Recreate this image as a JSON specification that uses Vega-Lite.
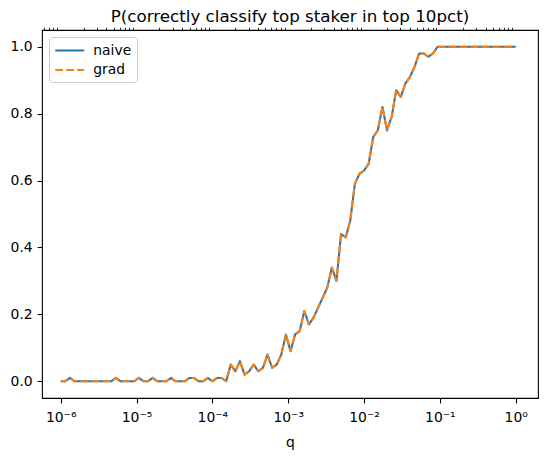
{
  "$schema": "https://vega.github.io/schema/vega-lite/v6.json",
  "width": 496,
  "height": 368,
  "autosize": {"type": "none"},
  "padding": {"left": 42, "top": 30, "right": 9, "bottom": 59},
  "background": "white",
  "title": {
    "text": "P(correctly classify top staker in top 10pct)",
    "font": "DejaVu Sans",
    "fontSize": 16.7,
    "fontWeight": "normal",
    "color": "black",
    "anchor": "middle",
    "offset": 1
  },
  "data": {
    "values": [
      {"q": 1e-6, "naive": 0, "grad": 0},
      {"q": 1.1498e-6, "naive": 0, "grad": 0},
      {"q": 1.3219e-6, "naive": 0.01, "grad": 0.01},
      {"q": 1.5199e-6, "naive": 0, "grad": 0},
      {"q": 1.7475e-6, "naive": 0, "grad": 0},
      {"q": 2.0092e-6, "naive": 0, "grad": 0},
      {"q": 2.3101e-6, "naive": 0, "grad": 0},
      {"q": 2.6561e-6, "naive": 0, "grad": 0},
      {"q": 3.0539e-6, "naive": 0, "grad": 0},
      {"q": 3.5112e-6, "naive": 0, "grad": 0},
      {"q": 4.037e-6, "naive": 0, "grad": 0},
      {"q": 4.6416e-6, "naive": 0, "grad": 0},
      {"q": 5.3367e-6, "naive": 0.01, "grad": 0.01},
      {"q": 6.1359e-6, "naive": 0, "grad": 0},
      {"q": 7.0548e-6, "naive": 0, "grad": 0},
      {"q": 8.1113e-6, "naive": 0, "grad": 0},
      {"q": 9.326e-6, "naive": 0, "grad": 0},
      {"q": 1.0723e-5, "naive": 0.01, "grad": 0.01},
      {"q": 1.2328e-5, "naive": 0, "grad": 0},
      {"q": 1.4175e-5, "naive": 0, "grad": 0},
      {"q": 1.6298e-5, "naive": 0.01, "grad": 0.01},
      {"q": 1.8738e-5, "naive": 0, "grad": 0},
      {"q": 2.1544e-5, "naive": 0, "grad": 0},
      {"q": 2.4771e-5, "naive": 0, "grad": 0},
      {"q": 2.848e-5, "naive": 0.01, "grad": 0.01},
      {"q": 3.2745e-5, "naive": 0, "grad": 0},
      {"q": 3.7649e-5, "naive": 0, "grad": 0},
      {"q": 4.3288e-5, "naive": 0, "grad": 0},
      {"q": 4.977e-5, "naive": 0.01, "grad": 0.01},
      {"q": 5.7224e-5, "naive": 0.01, "grad": 0.01},
      {"q": 6.5793e-5, "naive": 0, "grad": 0},
      {"q": 7.5646e-5, "naive": 0, "grad": 0},
      {"q": 8.6975e-5, "naive": 0.01, "grad": 0.01},
      {"q": 1e-4, "naive": 0, "grad": 0},
      {"q": 1.1498e-4, "naive": 0.01, "grad": 0.01},
      {"q": 1.3219e-4, "naive": 0.01, "grad": 0.01},
      {"q": 1.5199e-4, "naive": 0, "grad": 0},
      {"q": 1.7475e-4, "naive": 0.05, "grad": 0.05},
      {"q": 2.0092e-4, "naive": 0.03, "grad": 0.03},
      {"q": 2.3101e-4, "naive": 0.06, "grad": 0.06},
      {"q": 2.6561e-4, "naive": 0.02, "grad": 0.02},
      {"q": 3.0539e-4, "naive": 0.03, "grad": 0.03},
      {"q": 3.5112e-4, "naive": 0.05, "grad": 0.05},
      {"q": 4.037e-4, "naive": 0.03, "grad": 0.03},
      {"q": 4.6416e-4, "naive": 0.04, "grad": 0.04},
      {"q": 5.3367e-4, "naive": 0.08, "grad": 0.08},
      {"q": 6.1359e-4, "naive": 0.04, "grad": 0.04},
      {"q": 7.0548e-4, "naive": 0.05, "grad": 0.05},
      {"q": 8.1113e-4, "naive": 0.08, "grad": 0.08},
      {"q": 9.326e-4, "naive": 0.14, "grad": 0.14},
      {"q": 1.0723e-3, "naive": 0.09, "grad": 0.09},
      {"q": 1.2328e-3, "naive": 0.14, "grad": 0.14},
      {"q": 1.4175e-3, "naive": 0.15, "grad": 0.15},
      {"q": 1.6298e-3, "naive": 0.21, "grad": 0.21},
      {"q": 1.8738e-3, "naive": 0.17, "grad": 0.17},
      {"q": 2.1544e-3, "naive": 0.19, "grad": 0.19},
      {"q": 2.4771e-3, "naive": 0.22, "grad": 0.22},
      {"q": 2.848e-3, "naive": 0.25, "grad": 0.25},
      {"q": 3.2745e-3, "naive": 0.28, "grad": 0.28},
      {"q": 3.7649e-3, "naive": 0.34, "grad": 0.34},
      {"q": 4.3288e-3, "naive": 0.3, "grad": 0.3},
      {"q": 4.977e-3, "naive": 0.44, "grad": 0.44},
      {"q": 5.7224e-3, "naive": 0.43, "grad": 0.43},
      {"q": 6.5793e-3, "naive": 0.48, "grad": 0.48},
      {"q": 7.5646e-3, "naive": 0.59, "grad": 0.59},
      {"q": 8.6975e-3, "naive": 0.62, "grad": 0.62},
      {"q": 1e-2, "naive": 0.63, "grad": 0.63},
      {"q": 1.1498e-2, "naive": 0.65, "grad": 0.65},
      {"q": 1.3219e-2, "naive": 0.73, "grad": 0.73},
      {"q": 1.5199e-2, "naive": 0.75, "grad": 0.75},
      {"q": 1.7475e-2, "naive": 0.82, "grad": 0.82},
      {"q": 2.0092e-2, "naive": 0.75, "grad": 0.75},
      {"q": 2.3101e-2, "naive": 0.79, "grad": 0.79},
      {"q": 2.6561e-2, "naive": 0.87, "grad": 0.87},
      {"q": 3.0539e-2, "naive": 0.85, "grad": 0.85},
      {"q": 3.5112e-2, "naive": 0.89, "grad": 0.89},
      {"q": 4.037e-2, "naive": 0.91, "grad": 0.91},
      {"q": 4.6416e-2, "naive": 0.94, "grad": 0.94},
      {"q": 5.3367e-2, "naive": 0.98, "grad": 0.98},
      {"q": 6.1359e-2, "naive": 0.98, "grad": 0.98},
      {"q": 7.0548e-2, "naive": 0.97, "grad": 0.97},
      {"q": 8.1113e-2, "naive": 0.98, "grad": 0.98},
      {"q": 9.326e-2, "naive": 1, "grad": 1},
      {"q": 0.10723, "naive": 1, "grad": 1},
      {"q": 0.12328, "naive": 1, "grad": 1},
      {"q": 0.14175, "naive": 1, "grad": 1},
      {"q": 0.16298, "naive": 1, "grad": 1},
      {"q": 0.18738, "naive": 1, "grad": 1},
      {"q": 0.21544, "naive": 1, "grad": 1},
      {"q": 0.24771, "naive": 1, "grad": 1},
      {"q": 0.2848, "naive": 1, "grad": 1},
      {"q": 0.32745, "naive": 1, "grad": 1},
      {"q": 0.37649, "naive": 1, "grad": 1},
      {"q": 0.43288, "naive": 1, "grad": 1},
      {"q": 0.4977, "naive": 1, "grad": 1},
      {"q": 0.57224, "naive": 1, "grad": 1},
      {"q": 0.65793, "naive": 1, "grad": 1},
      {"q": 0.75646, "naive": 1, "grad": 1},
      {"q": 0.86975, "naive": 1, "grad": 1},
      {"q": 1, "naive": 1, "grad": 1}
    ]
  },
  "transform": [{"fold": ["naive", "grad"], "as": ["series", "p"]}],
  "encoding": {
    "y": {
      "field": "p",
      "type": "quantitative",
      "scale": {"domain": [-0.05, 1.05], "nice": false, "zero": false},
      "axis": {"values": [0, 0.2, 0.4, 0.6, 0.8, 1.0], "format": ".1f", "title": null}
    },
    "color": {
      "field": "series",
      "type": "nominal",
      "scale": {"domain": ["naive", "grad"], "range": ["#1f77b4", "#ff7f0e"]},
      "legend": {"title": null}
    },
    "strokeDash": {
      "field": "series",
      "type": "nominal",
      "scale": {"domain": ["naive", "grad"], "range": [[1, 0], [7.7, 3.3]]},
      "legend": {"title": null}
    }
  },
  "layer": [
    {
      "transform": [{"filter": "datum.series === 'naive'"}],
      "mark": {"type": "line", "strokeWidth": 2.08, "strokeJoin": "round"},
      "encoding": {
        "x": {
          "field": "q",
          "type": "quantitative",
          "scale": {"type": "log", "domain": [5.666e-7, 1.968], "nice": false},
          "axis": {
            "values": [1e-6, 1e-5, 1e-4, 1e-3, 1e-2, 1e-1, 1],
            "labelExpr": "['10⁻⁶','10⁻⁵','10⁻⁴','10⁻³','10⁻²','10⁻¹','10⁰'][round(log(datum.value)/LN10)+6]",
            "labelPadding": 7.5,
            "titlePadding": 11,
            "title": "q"
          }
        }
      }
    },
    {
      "transform": [{"filter": "datum.series === 'grad'"}],
      "mark": {"type": "line", "strokeWidth": 2.08, "strokeJoin": "round"},
      "encoding": {
        "x": {
          "field": "q",
          "type": "quantitative",
          "scale": {"type": "log", "domain": [5.666e-7, 1.968], "nice": false},
          "axis": {
            "values": [6e-7, 7e-7, 8e-7, 9e-7,
                       2e-6, 3e-6, 4e-6, 5e-6, 6e-6, 7e-6, 8e-6, 9e-6,
                       2e-5, 3e-5, 4e-5, 5e-5, 6e-5, 7e-5, 8e-5, 9e-5,
                       2e-4, 3e-4, 4e-4, 5e-4, 6e-4, 7e-4, 8e-4, 9e-4,
                       2e-3, 3e-3, 4e-3, 5e-3, 6e-3, 7e-3, 8e-3, 9e-3,
                       2e-2, 3e-2, 4e-2, 5e-2, 6e-2, 7e-2, 8e-2, 9e-2,
                       0.2, 0.3, 0.4, 0.5, 0.6, 0.7, 0.8, 0.9],
            "labels": false,
            "tickSize": 2.8,
            "tickWidth": 0.8,
            "title": null
          }
        }
      }
    }
  ],
  "resolve": {"axis": {"x": "independent"}},
  "config": {
    "view": {"stroke": "black", "strokeWidth": 1.1},
    "axis": {
      "domain": false,
      "grid": false,
      "ticks": true,
      "tickSize": 4.9,
      "tickWidth": 1.1,
      "tickColor": "black",
      "labelPadding": 4.9,
      "labelFont": "DejaVu Sans",
      "labelFontSize": 13.9,
      "labelColor": "black",
      "titleFont": "DejaVu Sans",
      "titleFontSize": 13.9,
      "titleFontWeight": "normal",
      "titleColor": "black",
      "titlePadding": 5
    },
    "axisY": {"labelBaseline": "middle"},
    "legend": {
      "orient": "top-left",
      "offset": 7,
      "padding": 5,
      "fillColor": "rgba(255,255,255,0.8)",
      "strokeColor": "#cccccc",
      "cornerRadius": 3,
      "symbolType": "M-2,0H2",
      "symbolSize": 210,
      "symbolOffset": 7.25,
      "symbolStrokeWidth": 2.08,
      "labelFont": "DejaVu Sans",
      "labelFontSize": 13.9,
      "labelColor": "black",
      "labelOffset": 15,
      "rowPadding": 3.5
    }
  }
}
